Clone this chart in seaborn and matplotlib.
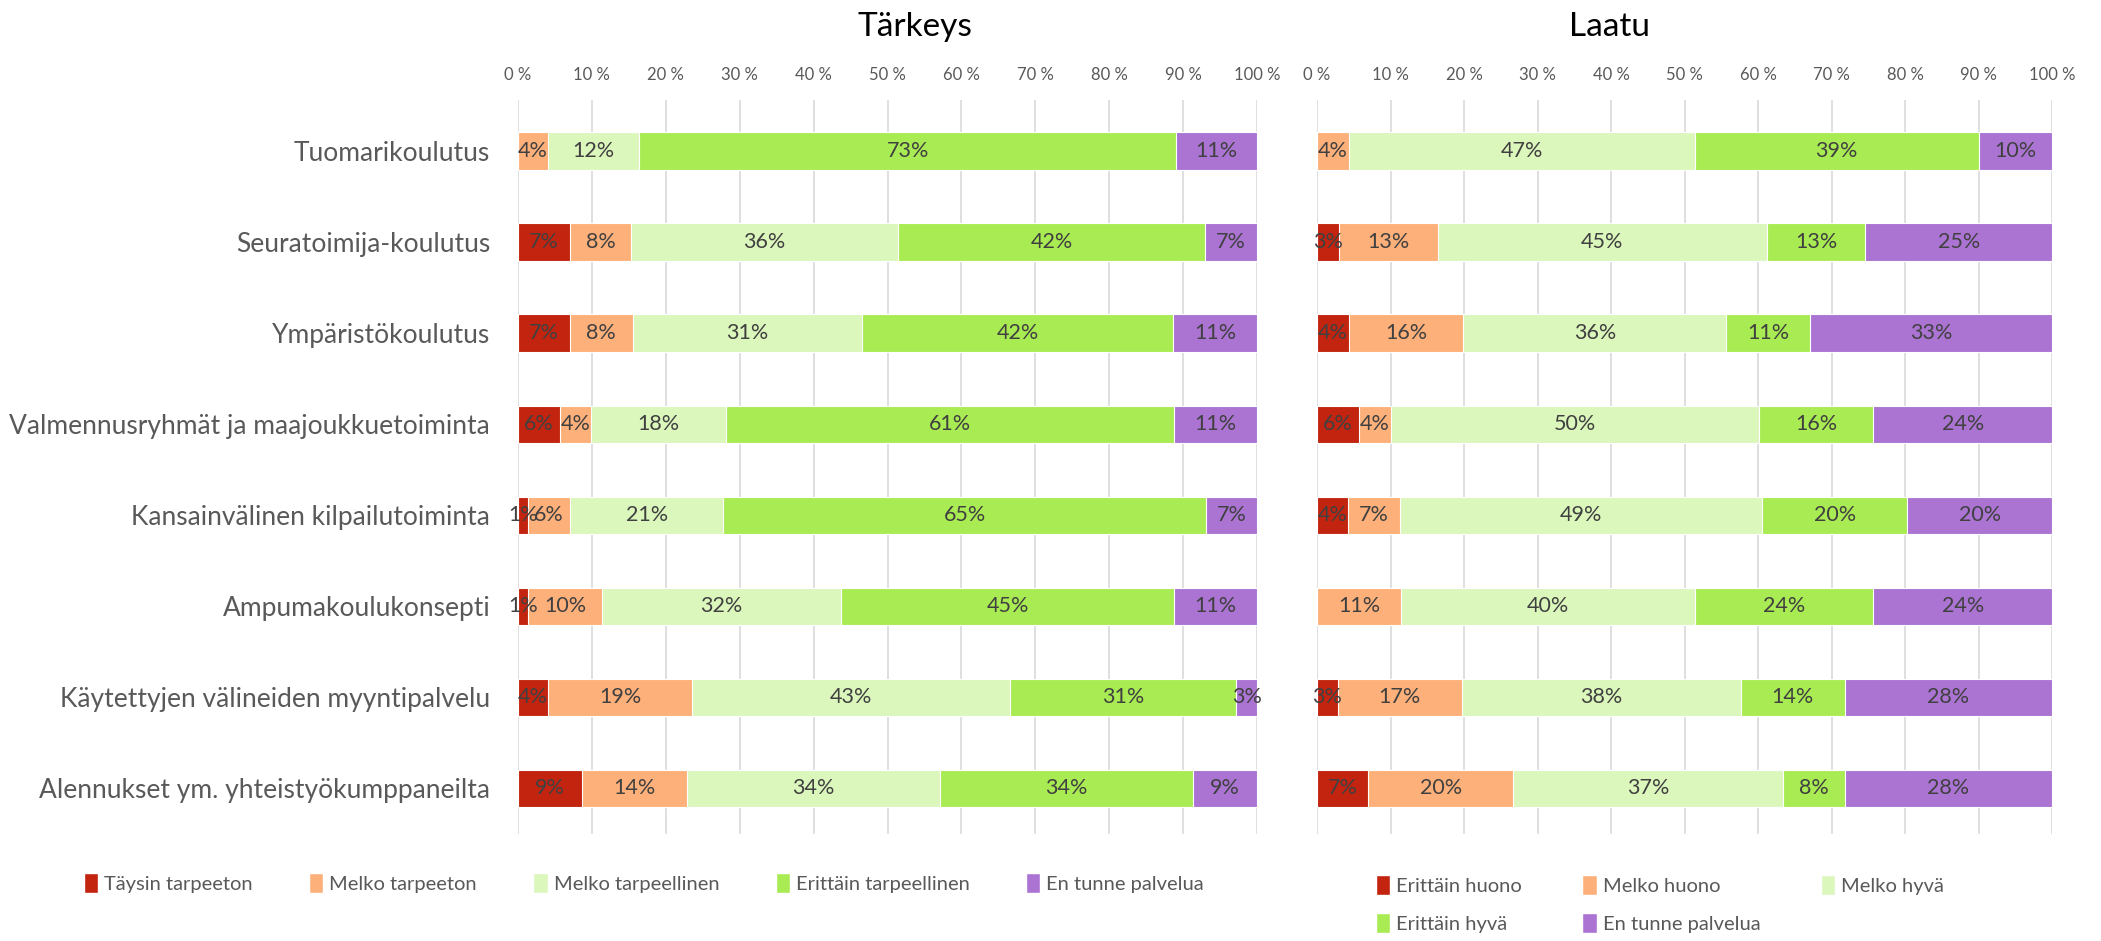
import numpy as np
import matplotlib
matplotlib.use('Agg')
import matplotlib.pyplot as plt
import seaborn as sns
from matplotlib.patches import Patch

sns.set_style('white')
plt.rcParams['font.family'] = ['Lato', 'DejaVu Sans']

services = ['Tuomarikoulutus', 'Seuratoimija-koulutus', 'Ympäristökoulutus',
            'Valmennusryhmät ja maajoukkuetoiminta', 'Kansainvälinen kilpailutoiminta',
            'Ampumakoulukonsepti', 'Käytettyjen välineiden myyntipalvelu',
            'Alennukset ym. yhteistyökumppaneilta']

# Tärkeys (importance), % of answers
imp_names = ['Täysin tarpeeton', 'Melko tarpeeton', 'Melko tarpeellinen',
             'Erittäin tarpeellinen', 'En tunne palvelua']
imp_taysin_tarpeeton = [0, 7.0, 7.0, 5.7, 1.4, 1.4, 4.1, 8.6]
imp_melko_tarpeeton = [4.1, 8.3, 8.5, 4.2, 5.6, 9.9, 19.4, 14.3]
imp_melko_tarpeellinen = [12.3, 36.1, 31.0, 18.3, 20.8, 32.4, 43.1, 34.2]
imp_erittain_tarpeellinen = [72.7, 41.6, 42.2, 60.6, 65.3, 45.1, 30.6, 34.3]
imp_en_tunne = [10.9, 7.0, 11.3, 11.2, 6.9, 11.2, 2.8, 8.6]

# Laatu (quality), % of answers
laa_names = ['Erittäin huono', 'Melko huono', 'Melko hyvä',
             'Erittäin hyvä', 'En tunne palvelua']
laa_erittain_huono = [0, 3.0, 4.3, 5.7, 4.2, 0, 2.8, 7.0]
laa_melko_huono = [4.3, 13.4, 15.6, 4.3, 7.1, 11.4, 16.9, 19.7]
laa_melko_hyva = [47.1, 44.8, 35.8, 50.1, 49.3, 40.0, 38.0, 36.7]
laa_erittain_hyva = [38.6, 13.4, 11.4, 15.6, 19.7, 24.3, 14.1, 8.4]
laa_en_tunne = [10.0, 25.4, 32.9, 24.3, 19.7, 24.3, 28.2, 28.2]

colors = ['#C22410', '#FDB07A', '#DBF7BC', '#A9EB53', '#AB74D3']

fig = plt.figure(figsize=(21.01, 9.41), dpi=100)
ax1 = fig.add_axes([518 / 2101, 107 / 941, 739 / 2101, 734 / 941])
ax2 = fig.add_axes([1317 / 2101, 107 / 941, 735 / 2101, 734 / 941])


def draw(ax, series):
    data = np.array(series)
    cum = np.cumsum(data, axis=0)
    # overlapping cumulative bars, longest first
    for i in range(len(series) - 1, -1, -1):
        sns.barplot(x=cum[i], y=services, color=colors[i], orient='h',
                    width=0.41, saturation=1, edgecolor='white',
                    linewidth=0.8, ax=ax)
    for i in range(len(series)):
        for j, v in enumerate(data[i]):
            if v <= 0:
                continue
            ax.text(cum[i][j] - v / 2, j, f'{round(v)}%', ha='center',
                    va='center', fontsize=15.5, color='#404040')
    ax.set_xlim(0, 100)
    ax.set_ylim(7.5, -0.56)
    ax.xaxis.tick_top()
    ticks = np.arange(0, 101, 10)
    ax.set_xticks(ticks)
    ax.set_xticklabels([f'{t} %' for t in ticks], fontsize=12, color='#595959')
    ax.tick_params(length=0, pad=12)
    ax.grid(axis='x', color='#d9d9d9', lw=1.2)
    ax.set_axisbelow(True)
    for s in ax.spines.values():
        s.set_visible(False)
    ax.set_xlabel('')
    ax.set_ylabel('')


draw(ax1, [imp_taysin_tarpeeton, imp_melko_tarpeeton, imp_melko_tarpeellinen,
           imp_erittain_tarpeellinen, imp_en_tunne])
draw(ax2, [laa_erittain_huono, laa_melko_huono, laa_melko_hyva,
           laa_erittain_hyva, laa_en_tunne])

ax1.tick_params(axis='y', pad=20, labelsize=19, labelcolor='#595959')
ax2.set_yticklabels([])

fig.text(915 / 2101, 1 - 27 / 941, 'Tärkeys', ha='center', va='center',
         fontsize=24, color='black')
fig.text(1609 / 2101, 1 - 27 / 941, 'Laatu', ha='center', va='center',
         fontsize=24, color='black')

h1 = [Patch(facecolor=c, label=n) for c, n in zip(colors, imp_names)]
h2 = [Patch(facecolor=c, label=n) for c, n in zip(colors, laa_names)]
# legend fills column by column; reorder so rows read left to right
h2 = [h2[0], h2[3], h2[1], h2[4], h2[2]]
leg_kw = dict(frameon=False, handlelength=0.7, handleheight=1.2,
              handletextpad=0.3, fontsize=14.5, labelcolor='#595959')
fig.legend(handles=h1, loc='center left', ncol=5, columnspacing=2.8,
           bbox_to_anchor=(66 / 2101, 1 - 883 / 941), **leg_kw)
fig.legend(handles=h2, loc='center left', ncol=3, columnspacing=3.0,
           labelspacing=0.85, bbox_to_anchor=(1358 / 2101, 1 - 904 / 941), **leg_kw)

fig.savefig('out.png', dpi=100)
